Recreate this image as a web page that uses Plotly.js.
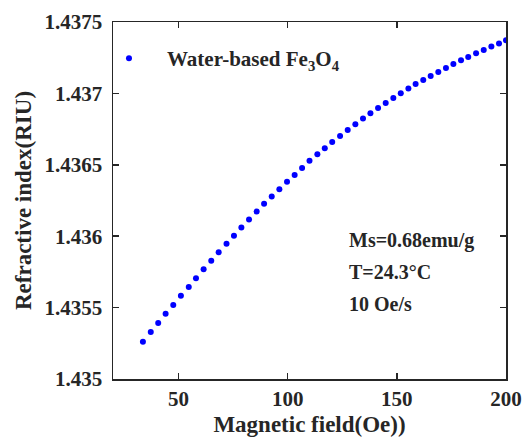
<!DOCTYPE html>
<html>
<head>
<meta charset="utf-8">
<script src="https://cdn.plot.ly/plotly-3.0.1.min.js"></script>
<style>html,body{margin:0;padding:0;background:#fff;}#chart{width:523px;height:442px;}</style>
</head>
<body>
<div id="chart"></div>
<script>
var fieldOe = [33.7,37.3,40.7,44.1,47.6,51.1,54.7,58.0,61.5,65.0,68.4,72.0,75.4,78.8,82.3,85.8,89.2,92.7,96.2,99.7,103.2,106.6,110.0,113.6,117.0,120.4,124.0,127.5,131.0,134.5,137.9,141.4,144.9,148.4,151.8,155.3,158.6,162.1,165.5,169.0,172.5,175.9,179.4,182.7,186.3,189.8,193.3,196.8,200.0];
var refIndex = [1.435261,1.435329,1.435392,1.435457,1.435518,1.435583,1.435644,1.435705,1.435768,1.435828,1.435887,1.435948,1.436004,1.436061,1.436117,1.436173,1.436227,1.436278,1.436329,1.436381,1.436429,1.436478,1.436529,1.436574,1.436616,1.436660,1.436702,1.436744,1.436784,1.436824,1.436861,1.436898,1.436933,1.436968,1.437001,1.437034,1.437066,1.437094,1.437122,1.437150,1.437178,1.437206,1.437232,1.437255,1.437281,1.437304,1.437328,1.437349,1.437372];
var xTickVals = [50,100,150,200];
var xTickText = ["50","100","150","200"];
var yTickVals = [1.435,1.4355,1.436,1.4365,1.437,1.4375];
var yTickText = ["1.435","1.4355","1.436","1.4365","1.437","1.4375"];
var seriesName = "Water-based Fe<sub>3</sub>O<sub>4</sub>";
var noteLines = ["Ms=0.68emu/g","T=24.3°C","10 Oe/s"];

var fontFam = "'Liberation Serif', 'Times New Roman', serif";
var textCol = "#262626";
function f(size) { return {family: fontFam, size: size, color: textCol, weight: "bold"}; }

var trace = {
  x: fieldOe, y: refIndex, type: "scatter", mode: "markers", name: seriesName,
  marker: {color: "#0000ff", size: 6}
};

var axisCommon = {
  showline: true, linecolor: "#262626", linewidth: 1.5, mirror: "ticks",
  ticks: "inside", ticklen: 6, tickwidth: 1.5, tickcolor: "#262626",
  showgrid: false, zeroline: false
};

var layout = {
  width: 523, height: 442,
  margin: {l: 113, r: 17, t: 22, b: 63},
  paper_bgcolor: "#fff", plot_bgcolor: "#fff",
  font: f(20),
  xaxis: Object.assign({}, axisCommon, {
    range: [20, 200], tickmode: "array", tickvals: xTickVals, ticktext: xTickText,
    tickfont: f(21),
    title: {text: "Magnetic field(Oe))", font: f(23), standoff: 6}
  }),
  yaxis: Object.assign({}, axisCommon, {
    range: [1.435, 1.4375], tickmode: "array", tickvals: yTickVals, ticktext: yTickText,
    tickfont: f(21), ticklabelstandoff: 5,
    title: {text: "Refractive index(RIU)", font: f(23), standoff: 6}
  }),
  showlegend: true,
  legend: {x: -0.056, y: 0.955, xanchor: "left", yanchor: "top", bgcolor: "rgba(0,0,0,0)",
    font: f(21), itemwidth: 66},
  annotations: noteLines.map(function(t, i) {
    return {xref: "paper", yref: "paper", x: 0.595, y: 0.389 - i*0.0896, xanchor: "left", yanchor: "middle",
      text: t, showarrow: false, font: f(20)};
  })
};

Plotly.newPlot("chart", [trace], layout, {displayModeBar: false, staticPlot: true});
</script>
</body>
</html>
